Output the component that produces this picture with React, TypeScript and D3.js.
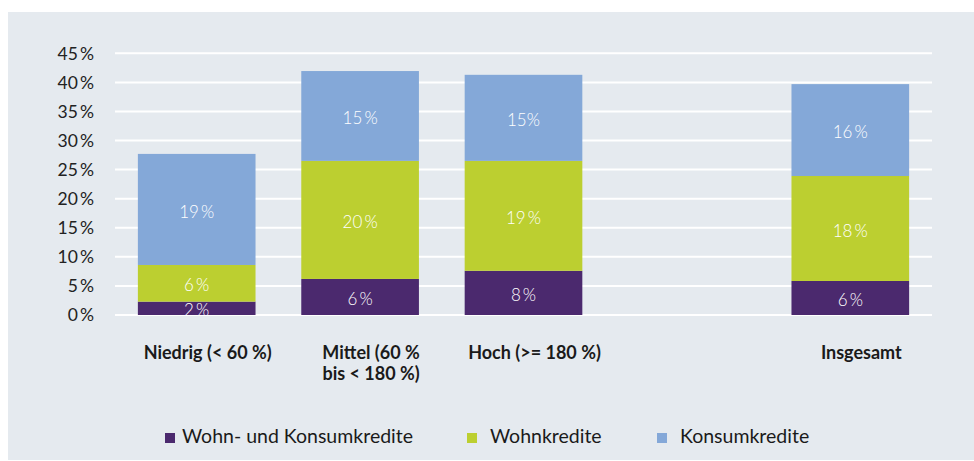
import React from "react";
import * as d3 from "d3";

const categories = ["Niedrig (< 60 %)", "Mittel (60 %|bis < 180 %)", "Hoch (>= 180 %)", "", "Insgesamt"];
const wohnKonsum = [2.3, 6.2, 7.6, null, 5.85];
const wohn = [6.3, 20.3, 18.9, null, 18.05];
const konsum = [19.1, 15.45, 14.8, null, 15.8];
const wohnKonsumLabels = ["2\u2009%", "6\u2009%", "8\u2009%", "", "6\u2009%"];
const wohnLabels = ["6\u2009%", "20\u2009%", "19\u2009%", "", "18\u2009%"];
const konsumLabels = ["19\u2009%", "15\u2009%", "15%", "", "16\u2009%"];
const seriesNames = ["Wohn- und Konsumkredite", "Wohnkredite", "Konsumkredite"];
const seriesColors = ["#4b296e", "#bccf30", "#84a8d8"];
const yTicks = [0, 5, 10, 15, 20, 25, 30, 35, 40, 45];

const W = 974;
const H = 461;
const FONT = "Lato, 'Noto Sans', sans-serif";

export default function App() {
  const x = d3
    .scaleBand<string>()
    .domain(categories.map((c, i) => String(i)))
    .range([115, 932])
    .paddingInner(0.28)
    .paddingOuter(0.14);
  const y = d3.scaleLinear().domain([0, 45]).range([315, 53.3]);

  const series = [wohnKonsum, wohn, konsum];
  const labels = [wohnKonsumLabels, wohnLabels, konsumLabels];

  const segs: any[] = [];
  categories.forEach((c, i) => {
    let base = 0;
    series.forEach((s, k) => {
      const v = s[i];
      if (v == null) return;
      segs.push({ i, k, y0: base, y1: base + v, label: labels[k][i] });
      base += v;
    });
  });

  const legendX = [165, 467, 657];
  const legendTextX = [182, 490, 680];

  return (
    <svg
      width={W}
      height={H}
      style={{ position: "absolute", left: 0, top: 0, background: "#fff" }}
      fontFamily={FONT}
    >
      <rect x={8} y={12} width={W - 8} height={448} fill="#e5eaef" />
      {yTicks.map((t) => (
        <g key={t}>
          <line x1={115} x2={932} y1={y(t)} y2={y(t)} stroke="#fff" strokeWidth={2} />
          <text x={94} y={y(t)} dy="0.36em" textAnchor="end" fontSize={17.5} fill="#222">
            {`${t}\u2009%`}
          </text>
        </g>
      ))}
      {segs.map((s, j) => {
        const x0 = x(String(s.i))!;
        const bw = x.bandwidth();
        return (
          <g key={j}>
            <rect x={x0} y={y(s.y1)} width={bw} height={y(s.y0) - y(s.y1)} fill={seriesColors[s.k]} />
            <text
              x={x0 + bw / 2}
              y={(y(s.y0) + y(s.y1)) / 2 + 2}
              dy="0.36em"
              textAnchor="middle"
              fontSize={17}
              fontWeight={300}
              fill="#fff"
            >
              {s.label}
            </text>
          </g>
        );
      })}
      {categories.map((c, i) => {
        if (!c) return null;
        const cx = x(String(i))! + x.bandwidth() / 2 + 11;
        const lines = c.split("|");
        return (
          <text key={i} x={cx} y={359} textAnchor="middle" fontSize={18} fontWeight={700} fill="#1a1a1a">
            {lines.map((l, li) => (
              <tspan key={li} x={cx} dy={li === 0 ? 0 : 21}>
                {l}
              </tspan>
            ))}
          </text>
        );
      })}
      {seriesNames.map((n, k) => (
        <g key={n}>
          <rect x={legendX[k]} y={433} width={10} height={10} fill={seriesColors[k]} />
          <text x={legendTextX[k]} y={443} fontSize={19.5} fill="#1a1a1a">
            {n}
          </text>
        </g>
      ))}
    </svg>
  );
}
